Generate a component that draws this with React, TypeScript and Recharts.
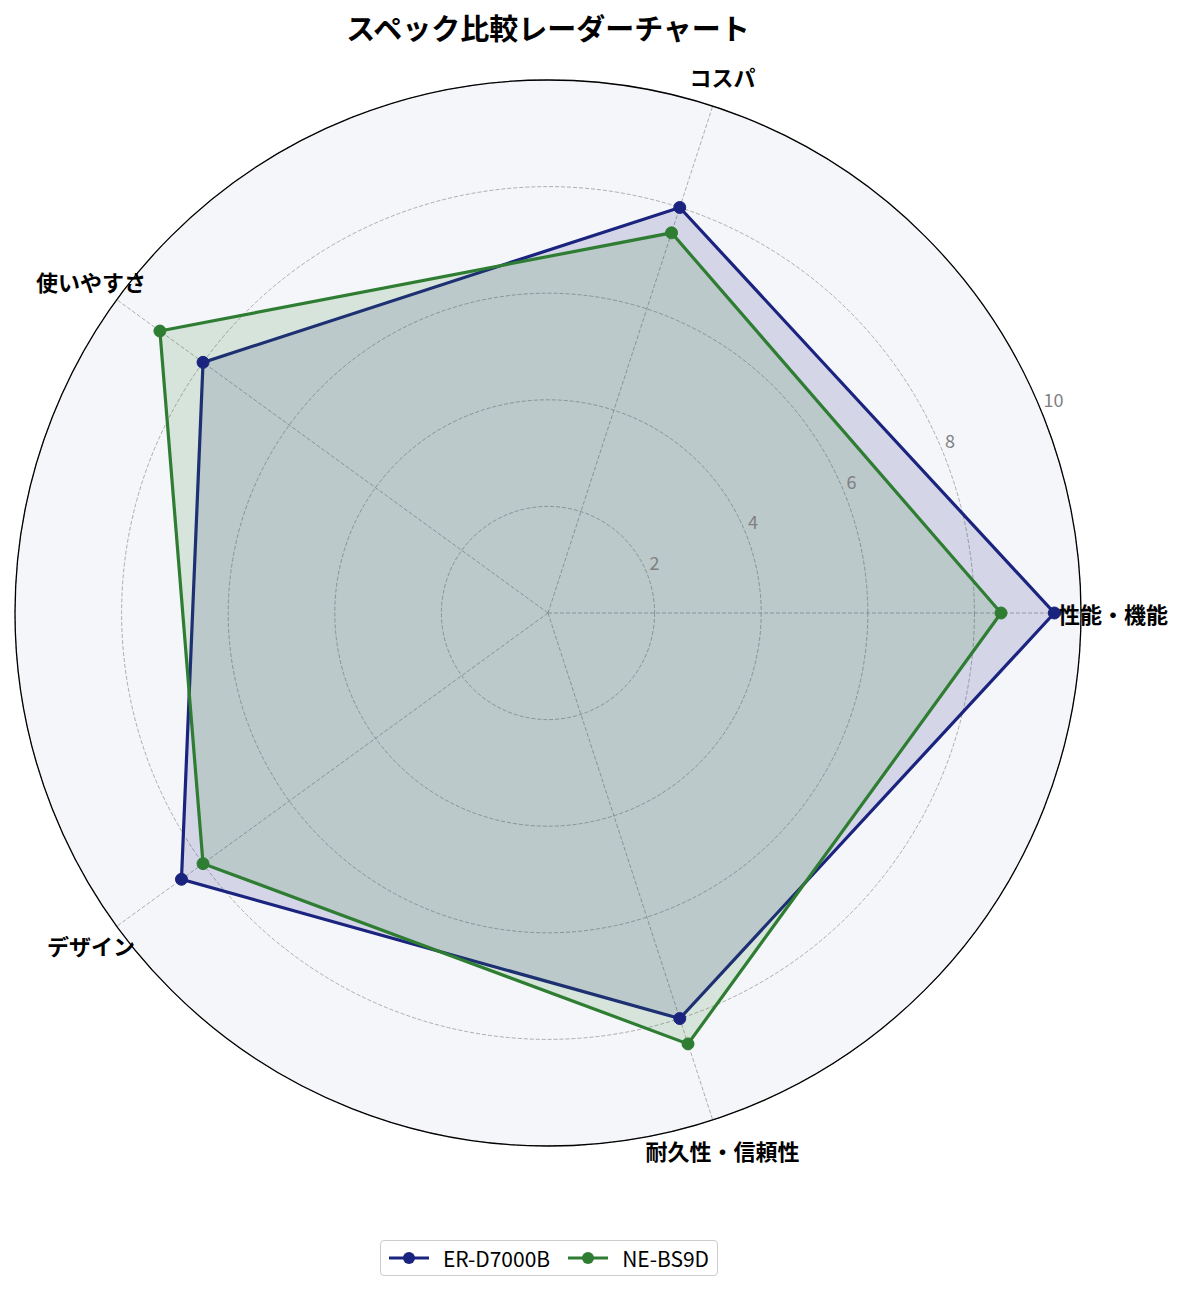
import React from 'react'
import {
  RadarChart,
  Radar,
  PolarGrid,
  PolarAngleAxis,
  PolarRadiusAxis,
  Legend,
} from 'recharts'

const categories = ['性能・機能', 'コスパ', '使いやすさ', 'デザイン', '耐久性・信頼性']
const erD7000B = [9.5, 8, 8, 8.5, 8]
const neBS9D = [8.5, 7.5, 9, 8, 8.5]
const radiusTicks = [2, 4, 6, 8, 10]

const SERIES = [
  { key: 'er', name: 'ER-D7000B', color: '#1a237e' },
  { key: 'ne', name: 'NE-BS9D', color: '#2e7d32' },
]

// categories run counter-clockwise from the right; recharts lays them out
// clockwise, so walk the list backwards after the first one
const order = [0, 4, 3, 2, 1]
const data = order.map((i) => ({
  category: categories[i],
  er: erD7000B[i],
  ne: neBS9D[i],
}))

const FONT = "'Noto Sans CJK JP', 'Noto Sans', sans-serif"
const CX = 548
const CY = 613
const R = 533

function AngleTick(props: any) {
  const { x, y, payload } = props
  const dx = x - CX
  const dy = y - CY
  const len = Math.hypot(dx, dy) || 1
  const r = R + 32
  return (
    <text
      x={CX + (dx / len) * r}
      y={CY + (dy / len) * r}
      textAnchor="middle"
      dominantBaseline="central"
      fontFamily={FONT}
      fontWeight={700}
      fontSize={22}
      fill="#000"
    >
      {payload.value}
    </text>
  )
}

function RadiusTick(props: any) {
  const { x, y, payload } = props
  return (
    <text
      x={x + 3}
      y={y - 10}
      textAnchor="start"
      dominantBaseline="central"
      fontFamily={FONT}
      fontSize={18}
      fill="#808080"
    >
      {payload.value}
    </text>
  )
}

function LegendBox(props: any) {
  const items = props.payload ?? []
  return (
    <div
      style={{
        display: 'flex',
        alignItems: 'center',
        gap: 18,
        padding: '2px 8px',
        border: '1px solid #cccccc',
        borderRadius: 4,
        background: '#fff',
        fontFamily: FONT,
        fontSize: 21,
        lineHeight: '30px',
        color: '#000',
      }}
    >
      {items.map((item: any) => (
        <div key={item.value} style={{ display: 'flex', alignItems: 'center', gap: 14 }}>
          <svg width={40} height={14}>
            <line x1={0} y1={7} x2={40} y2={7} stroke={item.color} strokeWidth={3} />
            <circle cx={20} cy={7} r={6} fill={item.color} />
          </svg>
          <span>{item.value}</span>
        </div>
      ))}
    </div>
  )
}

export default function App() {
  return (
    <div
      style={{
        position: 'absolute',
        left: 0,
        top: 0,
        width: 1185,
        height: 1292,
        background: '#fff',
        fontFamily: FONT,
      }}
    >
      <div
        style={{
          position: 'absolute',
          left: CX - R,
          top: CY - R,
          width: R * 2,
          height: R * 2,
          borderRadius: '50%',
          background: '#f5f6fa',
        }}
      />
      <div
        style={{
          position: 'absolute',
          top: 7,
          left: 0,
          width: CX * 2,
          textAlign: 'center',
          fontSize: 29,
          fontWeight: 700,
          lineHeight: '40px',
        }}
      >
        スペック比較レーダーチャート
      </div>
      <div style={{ position: 'absolute', left: 0, top: 0 }}>
        <RadarChart
          width={1185}
          height={1292}
          data={data}
          cx={CX}
          cy={CY}
          outerRadius={R}
          startAngle={0}
          endAngle={-360}
          margin={{ top: 0, right: 0, bottom: 0, left: 0 }}
        >
          <PolarGrid
            gridType="circle"
            stroke="#9a9a9a"
            strokeWidth={0.8}
            strokeDasharray="4 2"
          />
          <PolarAngleAxis
            dataKey="category"
            axisLineType="circle"
            axisLine={{ stroke: '#000', strokeWidth: 1.3, strokeDasharray: '0' }}
            tickLine={false}
            tick={<AngleTick />}
          />
          <PolarRadiusAxis
            type="number"
            angle={22.5}
            domain={[0, 10]}
            ticks={radiusTicks}
            axisLine={false}
            tickLine={false}
            tick={<RadiusTick />}
          />
          {SERIES.map((s) => (
            <Radar
              key={s.key}
              name={s.name}
              dataKey={s.key}
              stroke={s.color}
              strokeWidth={3.2}
              fill={s.color}
              fillOpacity={0.15}
              dot={{ r: 6, fill: s.color, fillOpacity: 1, stroke: s.color, strokeWidth: 1 }}
              isAnimationActive={false}
            />
          ))}
          <Legend
            content={<LegendBox />}
            wrapperStyle={{ position: 'absolute', top: 1240, left: 380, width: 'auto', bottom: 'auto' }}
          />
        </RadarChart>
      </div>
    </div>
  )
}
